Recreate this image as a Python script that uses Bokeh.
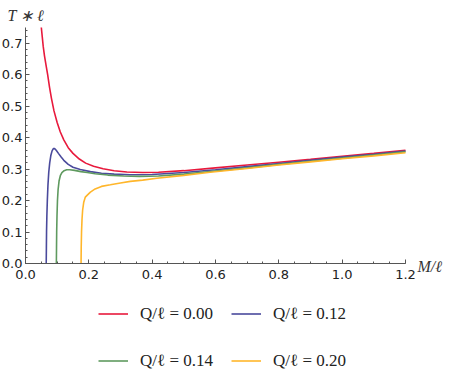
from bokeh.plotting import figure
from bokeh.models import Legend, LegendItem, Label, FixedTicker, NumeralTickFormatter, Range1d
from bokeh.embed import file_html
from bokeh.resources import INLINE

# ---- data (M/l, T*l) ----
red_m = [0.050, 0.053, 0.056, 0.060, 0.065, 0.070, 0.076, 0.082, 0.090, 0.100, 0.110, 0.121,
         0.135, 0.150, 0.170, 0.190, 0.215, 0.245, 0.280, 0.320, 0.370, 0.420, 0.500, 0.600,
         0.700, 0.800, 0.900, 1.000, 1.100, 1.200]
red_t = [0.750, 0.720, 0.690, 0.660, 0.630, 0.600, 0.560, 0.525, 0.485, 0.448, 0.418, 0.393,
         0.368, 0.350, 0.332, 0.319, 0.309, 0.301, 0.295, 0.291, 0.289, 0.290, 0.295, 0.304,
         0.313, 0.322, 0.331, 0.341, 0.350, 0.360]

blue_m = [0.0655, 0.0660, 0.0665, 0.0675, 0.0690, 0.0710, 0.0735, 0.0765, 0.0800, 0.0840,
          0.0880, 0.0920, 0.0970, 0.1040, 0.1120, 0.1210, 0.1350, 0.1500, 0.1730, 0.2050,
          0.2400, 0.2800, 0.3300, 0.4000, 0.5000, 0.6000, 0.7000, 0.8000, 0.9000, 1.0000,
          1.1000, 1.2000]
blue_t = [0.000, 0.050, 0.100, 0.150, 0.200, 0.250, 0.290, 0.320, 0.343, 0.358,
          0.365, 0.365, 0.360, 0.350, 0.339, 0.328, 0.315, 0.306, 0.299, 0.292,
          0.287, 0.284, 0.282, 0.283, 0.289, 0.298, 0.308, 0.318, 0.328, 0.338,
          0.347, 0.357]

green_m = [0.0975, 0.0980, 0.0985, 0.0995, 0.1010, 0.1030, 0.1060, 0.1100, 0.1150, 0.1220,
           0.1300, 0.1400, 0.1550, 0.1750, 0.1950, 0.2200, 0.2600, 0.3100, 0.3600, 0.4200,
           0.5000, 0.6000, 0.7000, 0.8000, 0.9000, 1.0000, 1.1000, 1.2000]
green_t = [0.000, 0.050, 0.100, 0.150, 0.200, 0.235, 0.262, 0.279, 0.289, 0.295,
           0.298, 0.298, 0.296, 0.292, 0.289, 0.285, 0.281, 0.278, 0.277, 0.278,
           0.284, 0.294, 0.304, 0.315, 0.325, 0.335, 0.345, 0.355]

yellow_m = [0.1755, 0.1760, 0.1770, 0.1785, 0.1805, 0.1840, 0.1890, 0.1960, 0.2050, 0.2200,
            0.2400, 0.2680, 0.3000, 0.3310, 0.3700, 0.4150, 0.5000, 0.5830, 0.7000, 0.8000,
            0.9000, 1.0000, 1.1000, 1.2000]
yellow_t = [0.000, 0.050, 0.100, 0.140, 0.170, 0.195, 0.211, 0.218, 0.227, 0.237,
            0.245, 0.250, 0.256, 0.261, 0.265, 0.271, 0.280, 0.290, 0.302, 0.313,
            0.323, 0.333, 0.342, 0.352]

labels = ["Q/ℓ = 0.00", "Q/ℓ = 0.12", "Q/ℓ = 0.14", "Q/ℓ = 0.20"]
colors = ["#E8193C", "#4A4A9C", "#5F9A5F", "#FFB62B"]

x_ticks = [0.0, 0.2, 0.4, 0.6, 0.8, 1.0, 1.2]
y_ticks = [0.0, 0.1, 0.2, 0.3, 0.4, 0.5, 0.6, 0.7]

W, H = 449, 372
# frame spans the whole canvas; axes are pinned at 0 so labels can sit outside the axes
p = figure(width=W, height=H, output_backend="svg", toolbar_location=None,
           x_range=Range1d(-0.0789, 1.339), y_range=Range1d(-0.3464, 0.8358),
           min_border=0)
p.outline_line_color = None
p.grid.visible = False
p.background_fill_color = "white"

renderers = []
for mx, ty, c in zip([red_m, blue_m, green_m, yellow_m],
                     [red_t, blue_t, green_t, yellow_t], colors):
    renderers.append(p.line(mx, ty, line_color=c, line_width=1.6))

for ax, ticks, nminor, bnds in [(p.xaxis[0], x_ticks, 4, (0, 1.2)),
                                (p.yaxis[0], y_ticks, 5, (0, 0.75))]:
    ax.fixed_location = 0
    ax.bounds = bnds
    ax.ticker = FixedTicker(ticks=ticks,
                            minor_ticks=[round(ticks[0] + i * (ticks[1] - ticks[0]) / nminor, 4)
                                         for i in range(0, nminor * (len(ticks)) + 1)
                                         if ticks[0] + i * (ticks[1] - ticks[0]) / nminor <= bnds[1] + 1e-9])
    ax.formatter = NumeralTickFormatter(format="0.0")
    ax.axis_line_color = "#555555"
    ax.major_tick_line_color = "#555555"
    ax.minor_tick_line_color = "#555555"
    ax.major_tick_in = 4
    ax.major_tick_out = 0
    ax.minor_tick_in = 2
    ax.minor_tick_out = 0
    ax.major_label_text_font = "DejaVu Sans"
    ax.major_label_text_font_size = "13px"
    ax.major_label_text_color = "#222222"
p.xaxis.major_label_standoff = 7
p.yaxis.major_label_standoff = 3

p.add_layout(Label(x=-0.057, y=0.788, text="T ∗ ℓ", text_font="Liberation Serif",
                   text_font_style="italic", text_font_size="16px", text_color="#333333",
                   text_align="left", text_baseline="alphabetic"))
p.add_layout(Label(x=1.238, y=-0.0095, text="M/ℓ", text_font="Liberation Serif",
                   text_font_style="italic", text_font_size="16px", text_color="#333333",
                   text_align="left", text_baseline="alphabetic"))

# legend columns are filled top-to-bottom, so order items to read row-wise
order = [0, 2, 1, 3]
legend = Legend(items=[LegendItem(label=labels[i], renderers=[renderers[i]]) for i in order],
                ncols=2, location=(98, -3),
                glyph_width=30, glyph_height=29, label_height=29, label_standoff=12,
                spacing=18, padding=0, margin=0,
                label_text_font="Liberation Serif", label_text_font_size="17px",
                label_text_color="#222222",
                border_line_color=None, background_fill_alpha=0)
p.add_layout(legend, "center")

open("out.html", "w").write(file_html(p, INLINE))
